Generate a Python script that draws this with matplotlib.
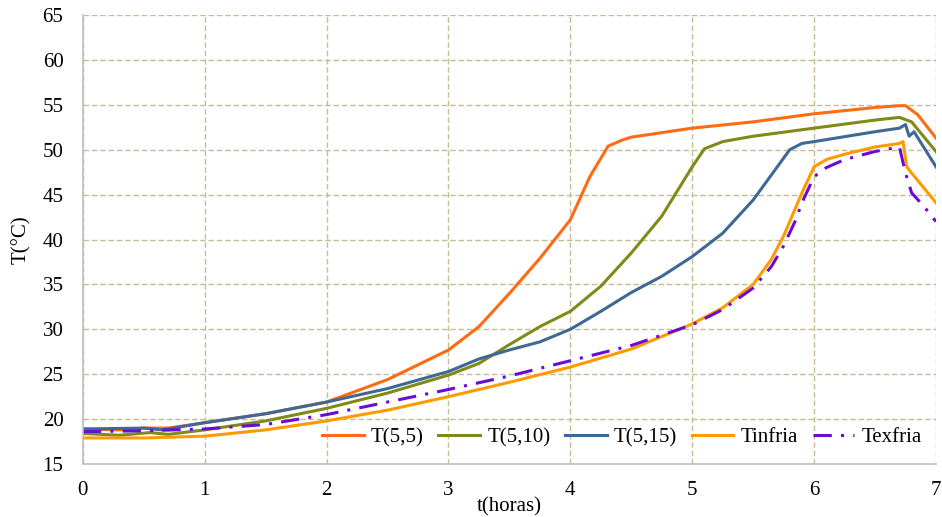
import numpy as np
import matplotlib
matplotlib.use("Agg")
import matplotlib.pyplot as plt

plt.rcParams['font.family'] = ['Liberation Serif', 'DejaVu Serif']

# series (t in hours, T in °C)
t55 = [0, 0.3, 0.5, 0.7, 1, 1.5, 2, 2.5, 3, 3.25, 3.5, 3.75, 4, 4.16, 4.31, 4.43, 4.5, 5, 5.5, 6, 6.5, 6.7, 6.75, 6.85, 7]
T55 = [18.9, 18.8, 19.0, 19.0, 19.6, 20.6, 21.9, 24.4, 27.7, 30.3, 34.0, 37.9, 42.2, 47.0, 50.4, 51.1, 51.4, 52.4, 53.1, 54.0, 54.7, 54.9, 54.9, 53.9, 51.3]

t510 = [0, 0.3, 0.55, 0.7, 1, 1.5, 2, 2.5, 3, 3.25, 3.5, 3.75, 4, 4.25, 4.5, 4.75, 4.9, 5, 5.1, 5.25, 5.5, 6, 6.5, 6.7, 6.8, 7]
T510 = [18.4, 18.2, 18.5, 18.3, 18.8, 19.8, 21.2, 22.9, 24.9, 26.2, 28.3, 30.3, 32.0, 34.8, 38.5, 42.6, 45.9, 48.1, 50.1, 50.9, 51.5, 52.4, 53.3, 53.6, 53.1, 49.8]

t515 = [0, 0.5, 0.65, 1, 1.5, 2, 2.5, 3, 3.25, 3.5, 3.75, 4, 4.25, 4.5, 4.75, 5, 5.25, 5.5, 5.65, 5.8, 5.9, 6, 6.5, 6.7, 6.75, 6.78, 6.82, 7]
T515 = [18.9, 19.0, 18.8, 19.6, 20.6, 21.9, 23.4, 25.3, 26.7, 27.7, 28.6, 30.0, 32.0, 34.1, 35.9, 38.1, 40.7, 44.4, 47.2, 50.0, 50.7, 50.9, 52.0, 52.4, 52.8, 51.5, 52.0, 48.1]

t_inf = [0, 0.5, 1, 1.5, 2, 2.5, 3, 3.5, 4, 4.5, 5, 5.25, 5.5, 5.65, 5.75, 5.85, 5.9, 6, 6.1, 6.25, 6.5, 6.7, 6.73, 6.76, 6.8, 7]
Tinfria = [17.9, 17.9, 18.1, 18.8, 19.8, 21.0, 22.5, 24.1, 25.8, 27.8, 30.6, 32.4, 35.0, 37.8, 40.4, 43.6, 45.2, 48.1, 48.9, 49.5, 50.3, 50.7, 50.9, 48.1, 47.4, 44.1]

t_ex = [0, 0.5, 1, 1.5, 2, 2.5, 3, 3.5, 4, 4.5, 5, 5.25, 5.5, 5.65, 5.75, 5.85, 5.9, 6, 6.1, 6.25, 6.5, 6.7, 6.75, 6.8, 6.9, 7]
Texfria = [18.6, 18.7, 18.9, 19.4, 20.5, 21.9, 23.3, 24.8, 26.5, 28.2, 30.5, 32.2, 34.6, 37.0, 39.3, 42.2, 44.1, 47.0, 48.0, 48.9, 49.8, 50.3, 47.4, 45.2, 43.7, 42.0]

x_ticks = [0, 1, 2, 3, 4, 5, 6, 7]
y_ticks = [15, 20, 25, 30, 35, 40, 45, 50, 55, 60, 65]

fig = plt.figure(figsize=(9.42, 5.17), dpi=100)
ax = fig.add_axes([0.088, 0.1025, 0.9056, 0.8685])

ax.plot(t55, T55, color='#FF6A13', lw=2.2, label='T(5,5)')
ax.plot(t510, T510, color='#7F8A17', lw=2.2, label='T(5,10)')
ax.plot(t515, T515, color='#3F6894', lw=2.2, label='T(5,15)')
ax.plot(t_inf, Tinfria, color='#FF9A00', lw=2.2, label='Tinfria')
ax.plot(t_ex, Texfria, color='#6A0BD6', lw=2.2, dashes=(6, 3, 1, 3), label='Texfria')

ax.set_xlim(0, 7)
ax.set_ylim(15, 65)
ax.set_xticks(x_ticks)
ax.set_yticks(y_ticks)
ax.tick_params(length=0, labelsize=15)
ax.tick_params(axis='x', pad=12)
ax.tick_params(axis='y', pad=14)
ax.grid(True, color='#C4BD97', linestyle=(0, (4, 2)), lw=1)
for s in ['top', 'right']:
    ax.spines[s].set_visible(False)
for s in ['left', 'bottom']:
    ax.spines[s].set_color('#BFBFBF')
    ax.spines[s].set_linewidth(1.2)

ax.set_xlabel('t(horas)', fontsize=15, labelpad=-2)
ax.set_ylabel('T(°C)', fontsize=15, labelpad=8)

ax.legend(loc='lower right', bbox_to_anchor=(1.003, 0.0), ncol=5, frameon=False,
          fontsize=15, handlelength=2.0, columnspacing=0.7, handletextpad=0.35,
          borderaxespad=0.4)

fig.savefig('out.png', dpi=100)
